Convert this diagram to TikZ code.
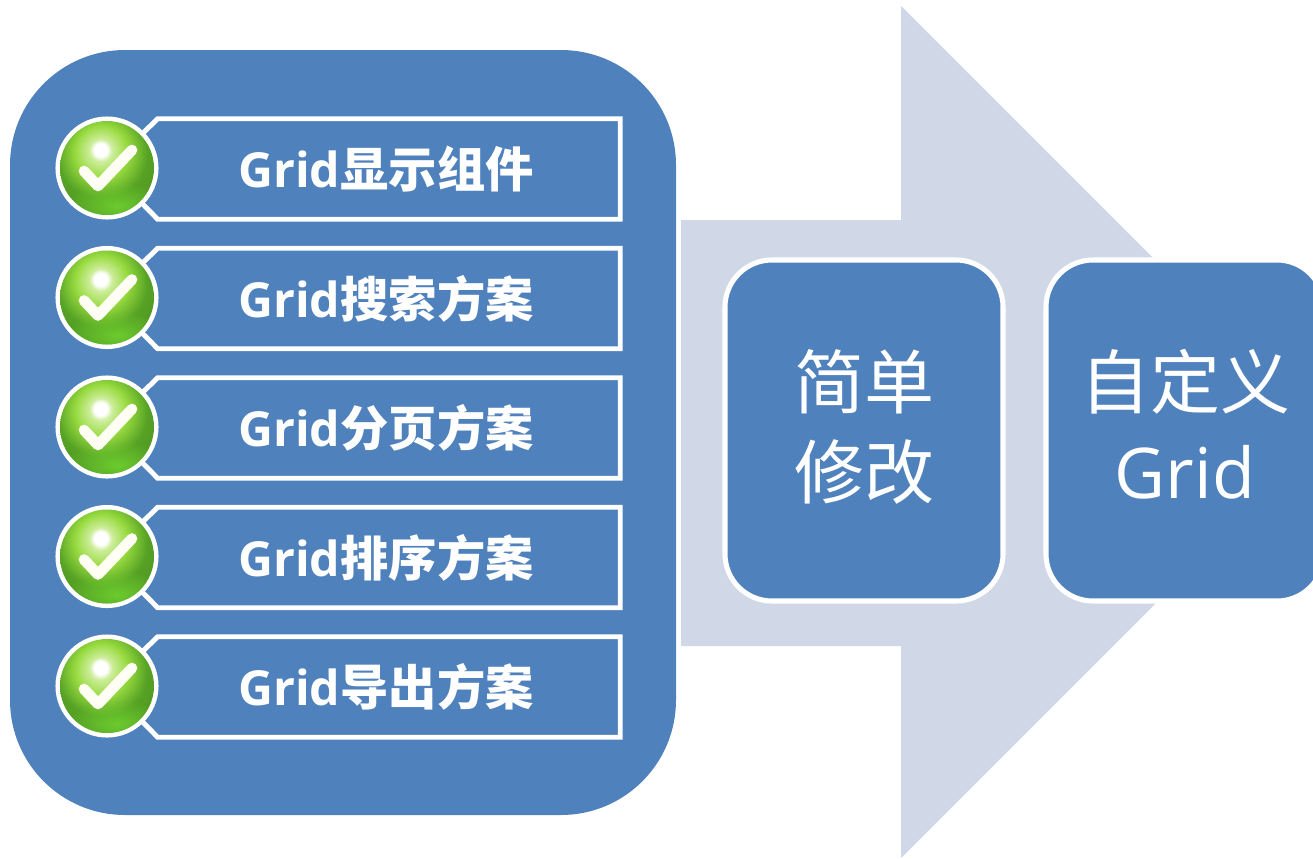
\documentclass[tikz,border=0pt]{standalone}
\usepackage{fontspec}
\setmainfont{Open Sans}
\newfontfamily\cjk{Noto Sans CJK SC}
\usetikzlibrary{fadings}

\definecolor{panelblue}{HTML}{4F81BD}
\definecolor{arrowgrey}{HTML}{D0D8E8}
\definecolor{ballgreen}{HTML}{6CCB2E}

\pgfdeclareradialshading{ballshade}{\pgfpoint{-3.5bp}{10bp}}{%
  color(0bp)=(white); color(3.5bp)=(white); color(6bp)=(yellow!25!ballgreen!45!white);
  color(14bp)=(yellow!20!ballgreen!88!white); color(24bp)=(ballgreen!80!black); color(40bp)=(ballgreen!70!black);
  color(60bp)=(ballgreen!58!black); color(100bp)=(ballgreen!58!black)}
\tikzfading[name=glowfade, inner color=transparent!0, outer color=transparent!100]

\tikzset{
  bigbox/.style={fill=panelblue, rounded corners=115*0.75pt, inner sep=0pt,
    minimum width=666*0.75pt, minimum height=765*0.75pt},
  stepbox/.style={fill=panelblue, draw=white, line width=3.8pt, rounded corners=47*0.75pt, inner sep=0pt,
    minimum width=278*0.75pt, minimum height=341*0.75pt},
  steplabel/.style={inner sep=0pt, text=white, align=center, font=\fontsize{52.5pt}{67.5pt}\selectfont},
  framebox/.style={inner sep=0pt, minimum width=462*0.75pt, minimum height=100*0.75pt},
  framelabel/.style={inner sep=0pt, text=white, font=\fontsize{36.2pt}{43pt}\selectfont\bfseries},
  framelink/.style={draw=white, line width=3.7pt, line join=miter},
  ballring/.style={circle, draw=white, line width=3.8pt, fill=panelblue, inner sep=0pt, minimum size=98*0.75pt},
  checkmark/.style={draw=white!96!yellow, line width=8pt, line cap=round, line join=round}
}

\begin{document}
\begin{tikzpicture}[x=0.75pt,y=0.75pt,yscale=-1,xscale=1]
  \clip (0,0) rectangle (1313,858);
  \useasboundingbox (0,0) rectangle (1313,858);

  %Shape: Arrow
  \fill [arrowgrey] (681,220) -- (901,220) -- (901,6) -- (1327,432) -- (901,858) -- (901,646) -- (681,646) -- cycle;

  %Shape: Panel
  \node [bigbox] (panel) at (343,432.5) {};

  %Rows
  \foreach \rowy/\rowtext in {168/显示组件, 297.5/搜索方案, 427/分页方案, 556.5/排序方案, 686/导出方案} {
    \node [framebox] (frame) at (389,\rowy+1) {};
    \coordinate (hub) at (107,\rowy);
    \draw [framelink] (hub) -- (frame.north west) -- (frame.north east) -- (frame.south east) -- (frame.south west) -- (hub);
    \node [ballring] (ball) at (hub) {};
    \node [framelabel] (label) at (386,\rowy+1) {Grid{\cjk \rowtext}};
    \begin{scope}[shift={(hub)}]
      \path [clip] (0,0) circle [radius=47];
      \shade [shading=ballshade] (-47,-47) rectangle (47,47);
      \fill [ballgreen, path fading=glowfade] (10,38) ellipse [x radius=52, y radius=24];
      \draw [checkmark] (-23,3) -- (-9,18) -- (25,-18);
    \end{scope}
  }

  %Shape: Steps
  \node [stepbox] (simple) at (864,430.5) {};
  \node [stepbox] (custom) at (1185,430.5) {};

  % Text Node
  \node [steplabel] (simpletext) at (864,426.5) {{\cjk 简单}\\{\cjk 修改}};
  % Text Node
  \node [steplabel] (customtext) at (1185,424.5) {{\cjk 自定义}\\Grid};
\end{tikzpicture}
\end{document}
